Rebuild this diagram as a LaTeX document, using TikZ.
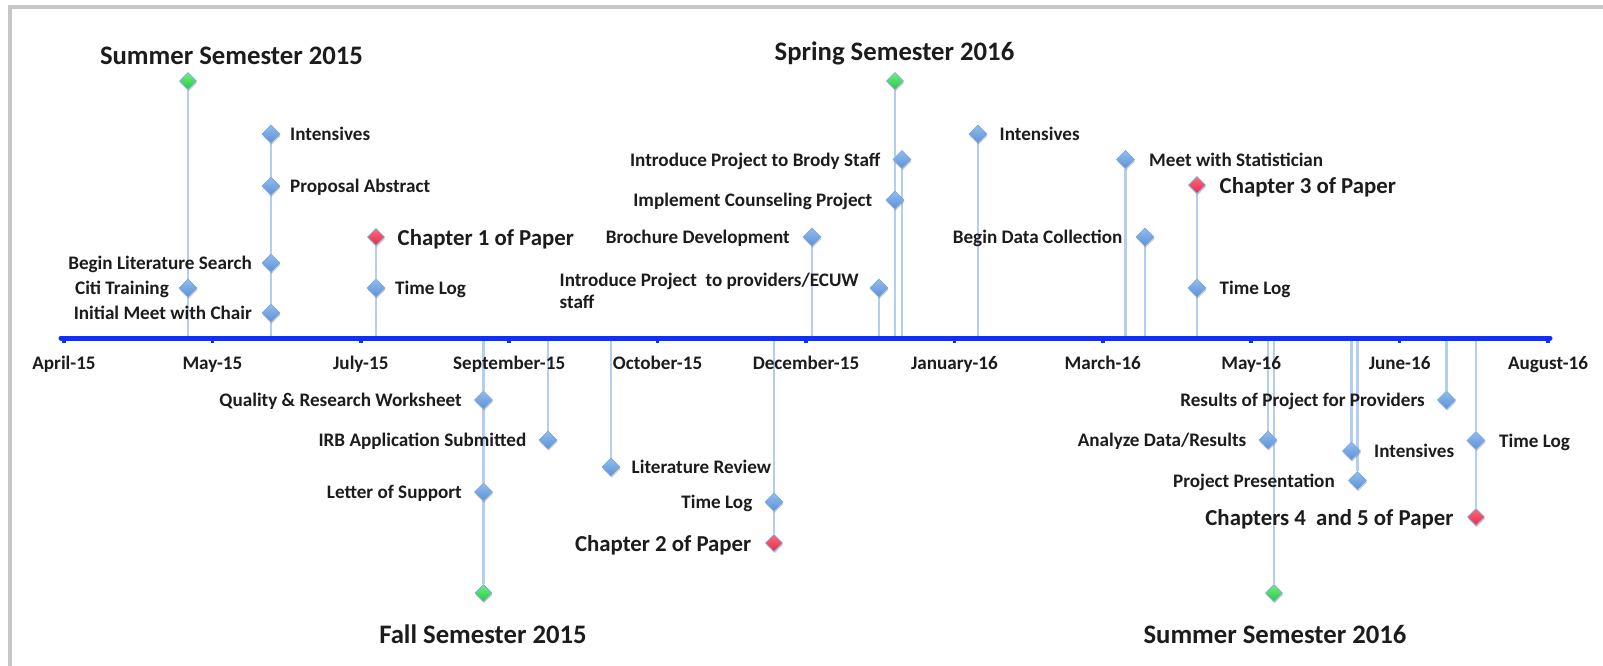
\documentclass[tikz,border=0pt]{standalone}
\usepackage{fontspec}
\setmainfont{Carlito}
\usetikzlibrary{shapes.geometric,shadows,backgrounds}
\definecolor{framec}{HTML}{C6C6C6}
\definecolor{axisc}{HTML}{0F2FFF}
\definecolor{stemc}{HTML}{B3CFF0}
\definecolor{btop}{HTML}{93BDEE}
\definecolor{bbot}{HTML}{5B91D8}
\definecolor{bline}{HTML}{7AA7E0}
\definecolor{gtop}{HTML}{70F07E}
\definecolor{gbot}{HTML}{28C840}
\definecolor{rtop}{HTML}{FF6A7A}
\definecolor{rbot}{HTML}{E82A48}
\definecolor{txt}{HTML}{1C1C1C}
\newcommand\tlLab{\fontsize{19.2}{22.5}\selectfont\bfseries}
\newcommand\tlChap{\fontsize{22.9}{26}\selectfont\bfseries}
\newcommand\tlSem{\fontsize{26.8}{30}\selectfont\bfseries}
\tikzset{
  mk/.style={diamond, inner sep=0pt, minimum width=18bp, minimum height=18bp,
    draw=bline, line width=0.6bp,
    drop shadow={shadow xshift=0.6bp, shadow yshift=-1.8bp, opacity=0.3, fill=black!60}},
  bd/.style={mk, top color=btop, bottom color=bbot},
  gd/.style={mk, minimum width=17bp, minimum height=17bp, top color=gtop, bottom color=gbot},
  rd/.style={mk, minimum width=17bp, minimum height=17bp, top color=rtop, bottom color=rbot},
  lab/.style={font=\tlLab, text=txt, inner sep=0pt, text height=14bp, text depth=1bp},
  chap/.style={font=\tlChap, text=txt, inner sep=0pt, text height=18bp, text depth=1bp},
  sem/.style={font=\tlSem, text=txt, inner sep=0pt},
  stem/.style={draw=stemc, line width=2.4bp},
  axisline/.style={draw=axisc, line width=5bp, line cap=round},
  tickmark/.style={draw=axisc, line width=3.5bp}
}
\begin{document}
\begin{tikzpicture}[x=1bp,y=-1bp]
\useasboundingbox (0,0) rectangle (1603,666);
% frame
\draw[framec, line width=3.5bp] (10,666) -- (10,7) -- (1603,7);

% axis coordinates
\foreach \n/\x in {188/188,271/271,376/376,812/812,879/879,895/895,902/902,978/978,
  1125/1125.5,1145/1145,1197/1197,483/483.5,548/548,611/611,774/774,1268/1268,
  1274/1274,1351/1351.5,1357/1357.5,1446/1446.5,1476/1476}
  \coordinate (ax\n) at (\x,338);

% markers above the axis
\node[gd] (s15) at (188,81) {};
\node[bd] (citi) at (188,288) {};
\node[bd] (intA) at (271,134) {};
\node[bd] (prop) at (271,186) {};
\node[bd] (blit) at (271,263) {};
\node[bd] (imc) at (271,313) {};
\node[rd] (ch1) at (376,237) {};
\node[bd] (tl1) at (376,288) {};
\node[bd] (prov) at (879,288) {};
\node[bd] (broc) at (812,237) {};
\node[bd] (impl) at (895,200) {};
\node[bd] (brody) at (902,159.5) {};
\node[gd] (sp16) at (895,81) {};
\node[bd] (intB) at (978,134) {};
\node[bd] (stat) at (1125.5,159.5) {};
\node[bd] (bdc) at (1145,237) {};
\node[rd] (ch3) at (1197,185) {};
\node[bd] (tl3) at (1197,288) {};
% markers below the axis
\node[bd] (qrw) at (483.5,400) {};
\node[bd] (los) at (483.5,492) {};
\node[gd] (f15) at (483.5,593) {};
\node[bd] (irb) at (548,440) {};
\node[bd] (litr) at (611,467) {};
\node[bd] (tl2) at (774,502) {};
\node[rd] (ch2) at (774,543) {};
\node[bd] (anl) at (1268,440) {};
\node[gd] (s16) at (1274,593) {};
\node[bd] (intC) at (1351.5,451) {};
\node[bd] (pp) at (1357.5,480.5) {};
\node[bd] (res) at (1446.5,400) {};
\node[bd] (tl4) at (1476,440.5) {};
\node[rd] (ch45) at (1476,517) {};

% stems
\begin{scope}[on background layer]
\fill[white] (0,0) rectangle (1603,666);
\draw[stem] (ax188) -- (citi) -- (s15);
\draw[stem] (ax271) -- (imc) -- (blit) -- (prop) -- (intA);
\draw[stem] (ax376) -- (tl1) -- (ch1);
\draw[stem] (ax812) -- (broc);
\draw[stem] (ax879) -- (prov);
\draw[stem] (ax895) -- (impl) -- (sp16);
\draw[stem] (ax902) -- (brody);
\draw[stem] (ax978) -- (intB);
\draw[stem] (ax1125) -- (stat);
\draw[stem] (ax1145) -- (bdc);
\draw[stem] (ax1197) -- (tl3) -- (ch3);
\draw[stem] (ax483) -- (qrw) -- (los) -- (f15);
\draw[stem] (ax548) -- (irb);
\draw[stem] (ax611) -- (litr);
\draw[stem] (ax774) -- (tl2) -- (ch2);
\draw[stem] (ax1268) -- (anl);
\draw[stem] (ax1274) -- (s16);
\draw[stem] (ax1351) -- (intC);
\draw[stem] (ax1357) -- (pp);
\draw[stem] (ax1446) -- (res);
\draw[stem] (ax1476) -- (tl4) -- (ch45);
\end{scope}

% axis
\coordinate (axL) at (61,338);
\coordinate (axR) at (1550,338);
\draw[axisline] (axL) -- (axR);
\foreach \i/\t in {0/April-15,1/May-15,2/July-15,3/September-15,4/October-15,
  5/December-15,6/January-16,7/March-16,8/May-16,9/June-16,10/August-16}{
  \coordinate (tk\i) at (64+148.4*\i,338);
  \draw[tickmark] (tk\i) -- ++(0,5);
  \node[lab] (tl\i) at (64+148.4*\i,363) {\t};
}

% semester titles
\node[sem] (t15s) at (231.5,56) {Summer Semester 2015};
\node[sem] (t16sp) at (894.5,53) {Spring Semester 2016};
\node[sem] (t15f) at (483,634) {Fall Semester 2015};
\node[sem] (t16s) at (1275,634) {Summer Semester 2016};

% labels above
\node[lab, anchor=east] (lciti) at (169,288) {Citi Training};
\node[lab, anchor=west] (lintA) at (290,134) {Intensives};
\node[lab, anchor=west] (lprop) at (290,186) {Proposal Abstract};
\node[lab, anchor=east] (lblit) at (252,263) {Begin Literature Search};
\node[lab, anchor=east] (limc) at (252,313) {Initial Meet with Chair};
\node[chap, anchor=west] (lch1) at (397.5,237) {Chapter 1 of Paper};
\node[lab, anchor=west] (ltl1) at (395,288) {Time Log};
\node[lab, anchor=east, align=left, text height=, text depth=, yshift=-3bp] (lprov) at (859,288)
  {Introduce Project~ to providers/ECUW\\staff};
\node[lab, anchor=east] (lbroc) at (790,237) {Brochure Development};
\node[lab, anchor=east] (limpl) at (872.5,200) {Implement Counseling Project};
\node[lab, anchor=east] (lbrody) at (880.5,159.5) {Introduce Project to Brody Staff};
\node[lab, anchor=west] (lintB) at (999.5,134) {Intensives};
\node[lab, anchor=west] (lstat) at (1149,159.5) {Meet with Statistician};
\node[lab, anchor=east] (lbdc) at (1122.5,237) {Begin Data Collection};
\node[chap, anchor=west] (lch3) at (1219.5,185) {Chapter 3 of Paper};
\node[lab, anchor=west] (ltl3) at (1219.5,288) {Time Log};

% labels below
\node[lab, anchor=east] (lqrw) at (462,400) {Quality \& Research Worksheet};
\node[lab, anchor=east] (llos) at (462,492) {Letter of Support};
\node[lab, anchor=east] (lirb) at (526.5,440) {IRB Application Submitted};
\node[lab, anchor=west] (llitr) at (631.5,467) {Literature Review};
\node[lab, anchor=east] (ltl2) at (752.5,502) {Time Log};
\node[chap, anchor=east] (lch2) at (751.5,543) {Chapter 2 of Paper};
\node[lab, anchor=east] (lanl) at (1246.5,440) {Analyze Data/Results};
\node[lab, anchor=west] (lintC) at (1374,451) {Intensives};
\node[lab, anchor=east] (lpp) at (1335,480.5) {Project Presentation};
\node[lab, anchor=east] (lres) at (1425,400) {Results of Project for Providers};
\node[lab, anchor=west] (ltl4) at (1499,440.5) {Time Log};
\node[chap, anchor=east] (lch45) at (1453.5,517) {Chapters 4~ and 5 of Paper};
\end{tikzpicture}
\end{document}
